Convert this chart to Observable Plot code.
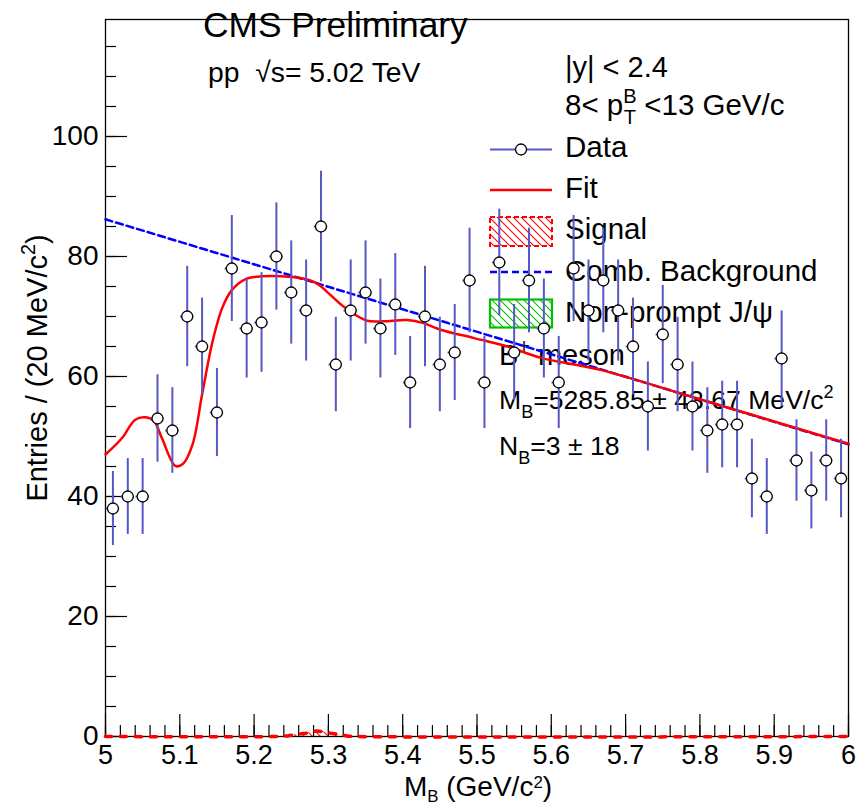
<!DOCTYPE html>
<html><head><meta charset="utf-8">
<script src="https://cdn.jsdelivr.net/npm/d3@7"></script>
<script src="https://cdn.jsdelivr.net/npm/@observablehq/plot@0.6"></script>
<style>body{margin:0;background:#fff;} svg{display:block}</style>
</head><body><div id="chart"></div>
<script>
// ---- data ----
const binCenters = [5.01,5.03,5.05,5.07,5.09,5.11,5.13,5.15,5.17,5.19,5.21,5.23,5.25,5.27,5.29,5.31,5.33,5.35,5.37,5.39,5.41,5.43,5.45,5.47,5.49,5.51,5.53,5.55,5.57,5.59,5.61,5.63,5.65,5.67,5.69,5.71,5.73,5.75,5.77,5.79,5.81,5.83,5.85,5.87,5.89,5.91,5.93,5.95,5.97,5.99];
const counts = [38,40,40,53,51,70,65,54,78,68,69,80,74,71,85,62,71,74,68,72,59,70,62,64,76,59,79,64,76,68,59,78,71,76,71,65,55,67,62,55,51,52,52,43,40,63,46,41,46,43];
const fitX = [5.0,5.022,5.04,5.054,5.065,5.076,5.094,5.104,5.117,5.13,5.144,5.157,5.17,5.188,5.21,5.25,5.274,5.287,5.30,5.318,5.336,5.352,5.374,5.406,5.428,5.451,5.496,5.541,5.586,5.666,5.8,6.0];
const fitY = [47.0,49.7,52.8,53.2,52.6,49.7,45.1,45.4,48.6,57.0,65.8,71.4,74.4,76.2,76.7,76.6,76.1,75.3,73.9,71.9,70.3,69.3,69.2,69.4,68.9,67.8,66.4,65.0,63.1,61.1,56.2,48.8];
const bkgX = [5.0, 6.0];
const bkgY = [86.2, 48.7];
const sigX = [5.0,5.23,5.245,5.26,5.273,5.284,5.30,5.312,5.325,5.34,6.0];
const sigY = [0,0,0.1,0.4,0.6,0.9,0.6,0.4,0.1,0,0];
const xMajorTicks = [5,5.1,5.2,5.3,5.4,5.5,5.6,5.7,5.8,5.9,6];
const xTickLabels = ["5","5.1","5.2","5.3","5.4","5.5","5.6","5.7","5.8","5.9","6"];
const yMajorTicks = [0,20,40,60,80,100];
const yTickLabels = ["0","20","40","60","80","100"];
const xMinorTicks = d3.range(0,51).map(i => 5 + i*0.02);
const yMinorTicks = d3.range(0,24).map(i => i*5);

const FONT = "'Liberation Sans', Arial, Helvetica, sans-serif";
const ERR = "#5858c4";

const data = binCenters.map((x,i) => ({x, y: counts[i]}));
const fit = fitX.map((x,i) => ({x, y: fitY[i]}));
const bkg = bkgX.map((x,i) => ({x, y: bkgY[i]}));
const sig = sigX.map((x,i) => ({x, y: sigY[i]}));

const plot = Plot.plot({
  width: 865, height: 808,
  marginLeft: 105, marginRight: 17, marginTop: 19, marginBottom: 72,
  style: {fontFamily: FONT, background: "white", color: "black", overflow: "visible"},
  x: {domain: [5, 6], label: null},
  y: {domain: [0, 119.5], label: null},
  marks: [
    Plot.frame({stroke: "black", strokeWidth: 1.3}),
    Plot.axisX(xMinorTicks, {tickSize: -11, tickFormat: () => "", label: null, strokeWidth: 1.2}),
    Plot.axisX(xMajorTicks, {tickSize: -22, tickFormat: () => "", label: null, strokeWidth: 1.2}),
    Plot.axisX(xMajorTicks, {tickSize: 0, tickPadding: 8, fontSize: 27, label: null,
      tickFormat: d => xTickLabels[xMajorTicks.indexOf(d)]}),
    Plot.axisY(yMinorTicks, {tickSize: -11, tickFormat: () => "", label: null, strokeWidth: 1.2}),
    Plot.axisY(yMajorTicks, {tickSize: -22, tickFormat: () => "", label: null, strokeWidth: 1.2}),
    Plot.axisY(yMajorTicks, {tickSize: 0, tickPadding: 7, fontSize: 28, label: null,
      tickFormat: d => yTickLabels[yMajorTicks.indexOf(d)]}),
    Plot.areaY(sig, {x: "x", y: "y", fill: "url(#hatchRed)", curve: "catmull-rom"}),
    Plot.line(sig, {x: "x", y: "y", stroke: "#ff0000", strokeWidth: 3.5, strokeDasharray: "6,9", curve: "catmull-rom"}),
    Plot.line(bkg, {x: "x", y: "y", stroke: "#0000ff", strokeWidth: 2.5, strokeDasharray: "7,4"}),
    Plot.line(fit, {x: "x", y: "y", stroke: "#ff0000", strokeWidth: 2.5, curve: "catmull-rom"}),
    Plot.ruleX(data, {x: "x", y1: d => d.y - Math.sqrt(d.y), y2: d => d.y + Math.sqrt(d.y), stroke: ERR, strokeWidth: 2}),
    Plot.ruleY(data, {y: "y", x1: d => d.x - 0.009, x2: d => d.x + 0.009, stroke: ERR, strokeWidth: 2}),
    Plot.dot(data, {x: "x", y: "y", r: 5.5, fill: "white", stroke: "black", strokeWidth: 1.3})
  ]
});
document.getElementById("chart").appendChild(plot);

const svg = d3.select(plot);
const firstChild = plot.firstChild;
const defs = svg.insert("defs", () => firstChild);
function hatch(id, color) {
  const p = defs.append("pattern").attr("id", id).attr("patternUnits", "userSpaceOnUse")
    .attr("width", 8).attr("height", 8);
  p.append("path").attr("d", "M-2,-2L10,10M-6,2L2,10M2,-6L10,2")
    .attr("stroke", color).attr("stroke-width", 1.1).attr("fill", "none");
}
hatch("hatchRed", "#ff0000");
hatch("hatchGreen", "#00c000");

// annotations sit underneath the data, as in the reference
const g = svg.insert("g", () => firstChild);
function rich(x, y, parts, size, opts = {}) {
  const t = g.append("text").attr("x", x).attr("y", y).attr("font-size", size)
    .attr("font-family", FONT).attr("fill", "black")
    .attr("text-anchor", opts.anchor || "start").style("white-space", "pre");
  if (opts.rotate) t.attr("transform", `rotate(${opts.rotate},${x},${y})`);
  const supK = opts.sup || 0.42, subK = opts.sub || 0.32, small = opts.small || 0.68;
  let cur = 0;
  for (const p of parts) {
    const s = typeof p === "string" ? {t: p} : p;
    const target = s.sub ? subK * size : s.sup ? -supK * size : 0;
    const ts = t.append("tspan").attr("dy", target - cur).text(s.t);
    if (s.dx) ts.attr("dx", s.dx);
    if (s.sub || s.sup) ts.attr("font-size", size * small);
    cur = target;
  }
  return t;
}

// titles
rich(203, 37, ["CMS Preliminary"], 35.3);
rich(208, 82, ["pp  \u221As= 5.02 TeV"], 28.3);
rich(565, 77, ["|y| < 2.4"], 29);
rich(565, 115, ["8< p", {t: "B", sup: true}, {t: "T", sub: true, dx: -12.8}, " <13 GeV/c"], 29.5);

// legend
const LX0 = 490, LX1 = 552, TX = 565;
const legendItems = ["Data", "Fit", "Signal", "Comb. Background", "Non-prompt J/\u03C8"];
const legendBase = [157, 198, 239, 281, 322];
legendItems.forEach((s, i) => rich(TX, legendBase[i], [s], 29.5));
g.append("line").attr("x1", LX0).attr("x2", LX1).attr("y1", 149.5).attr("y2", 149.5).attr("stroke", ERR).attr("stroke-width", 2);
g.append("circle").attr("cx", 521).attr("cy", 149.5).attr("r", 5.5).attr("fill", "white").attr("stroke", "black").attr("stroke-width", 1.3);
g.append("line").attr("x1", LX0).attr("x2", LX1).attr("y1", 190).attr("y2", 190).attr("stroke", "#ff0000").attr("stroke-width", 2.5);
g.append("rect").attr("x", LX0).attr("y", 217).attr("width", LX1 - LX0).attr("height", 29)
  .attr("fill", "url(#hatchRed)").attr("stroke", "#ff0000").attr("stroke-width", 2).attr("stroke-dasharray", "5,3");
g.append("line").attr("x1", LX0).attr("x2", LX1).attr("y1", 272).attr("y2", 272).attr("stroke", "#0000ff").attr("stroke-width", 2.5).attr("stroke-dasharray", "7,4");
g.append("rect").attr("x", LX0).attr("y", 299.5).attr("width", LX1 - LX0).attr("height", 28)
  .attr("fill", "url(#hatchGreen)").attr("stroke", "#00c000").attr("stroke-width", 2.2);

rich(499, 365, ["B", {t: "+", sup: true}, " meson"], 29);
rich(499, 409, ["M", {t: "B", sub: true}, "=5285.85 \u00B1 43.67 MeV/c", {t: "2", sup: true}], 26.6);
rich(499, 455, ["N", {t: "B", sub: true}, "=3 \u00B1 18"], 26.6);

rich(478, 796, ["M", {t: "B", sub: true}, " (GeV/c", {t: "2", sup: true}, ")"], 28, {anchor: "middle", sup: 0.3, sub: 0.22, small: 0.6});
rich(47, 368, ["Entries / (20 MeV/c", {t: "2", sup: true}, ")"], 29, {anchor: "middle", rotate: -90});
</script>
</body></html>
